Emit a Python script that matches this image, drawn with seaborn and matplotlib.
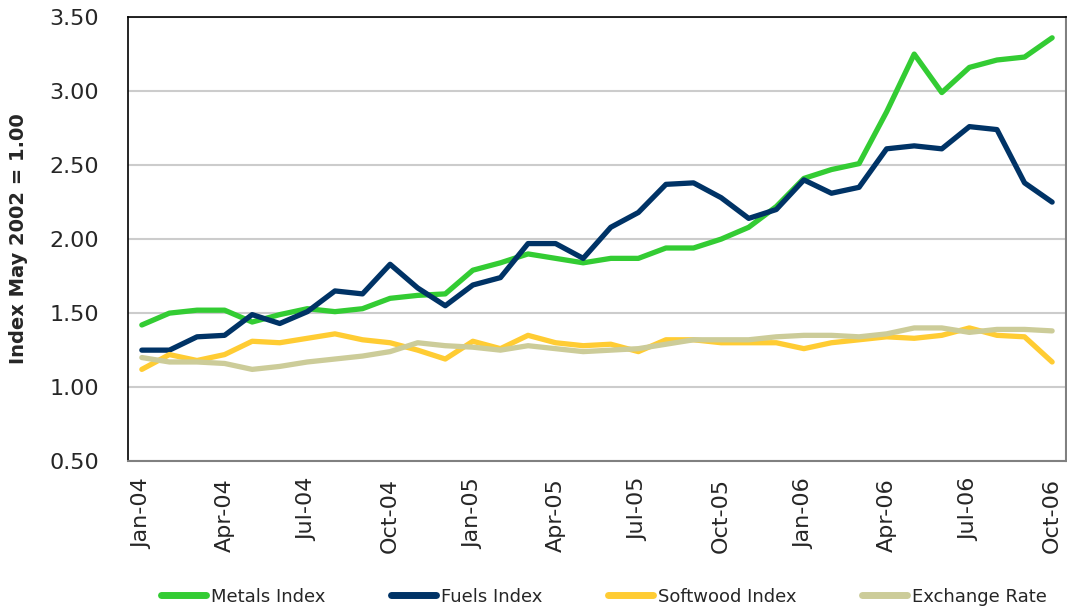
import seaborn as sns
import matplotlib.pyplot as plt
import pandas as pd
import numpy as np

# monthly index values, Jan-04 .. Oct-06 (May 2002 = 1.00)
months = pd.date_range(start='2004-01-01', periods=34, freq='MS').strftime('%b-%y').tolist()

metals = [1.42, 1.50, 1.52, 1.52, 1.44, 1.49, 1.53, 1.51, 1.53, 1.60, 1.62, 1.63,
          1.79, 1.84, 1.90, 1.87, 1.84, 1.87, 1.87, 1.94, 1.94, 2.00, 2.08, 2.22,
          2.41, 2.47, 2.51, 2.86, 3.25, 2.99, 3.16, 3.21, 3.23, 3.36]
fuels = [1.25, 1.25, 1.34, 1.35, 1.49, 1.43, 1.51, 1.65, 1.63, 1.83, 1.67, 1.55,
         1.69, 1.74, 1.97, 1.97, 1.87, 2.08, 2.18, 2.37, 2.38, 2.28, 2.14, 2.20,
         2.40, 2.31, 2.35, 2.61, 2.63, 2.61, 2.76, 2.74, 2.38, 2.25]
softwood = [1.12, 1.22, 1.18, 1.22, 1.31, 1.30, 1.33, 1.36, 1.32, 1.30, 1.25, 1.19,
            1.31, 1.26, 1.35, 1.30, 1.28, 1.29, 1.24, 1.32, 1.32, 1.30, 1.30, 1.30,
            1.26, 1.30, 1.32, 1.34, 1.33, 1.35, 1.40, 1.35, 1.34, 1.17]
exchange = [1.20, 1.17, 1.17, 1.16, 1.12, 1.14, 1.17, 1.19, 1.21, 1.24, 1.30, 1.28,
            1.27, 1.25, 1.28, 1.26, 1.24, 1.25, 1.26, 1.29, 1.32, 1.32, 1.32, 1.34,
            1.35, 1.35, 1.34, 1.36, 1.40, 1.40, 1.37, 1.39, 1.39, 1.38]

series_names = ['Metals Index', 'Fuels Index', 'Softwood Index', 'Exchange Rate']
colors = ['#33CC33', '#003366', '#FFCC33', '#CCCC99']

df = pd.DataFrame({'Month': months, 'Metals Index': metals, 'Fuels Index': fuels,
                   'Softwood Index': softwood, 'Exchange Rate': exchange})
df['pos'] = np.arange(len(df))
long = df.melt(id_vars=['Month', 'pos'], value_vars=series_names,
               var_name='Series', value_name='Index')

sns.set_style('white')
plt.rcParams['font.family'] = ['DejaVu Sans']

fig = plt.figure(figsize=(10.67, 6.10), dpi=100)
ax = fig.add_axes([0.12, 0.244, 0.879, 0.728])

sns.lineplot(data=long, x='pos', y='Index', hue='Series', hue_order=series_names,
             palette=dict(zip(series_names, colors)), linewidth=3.8,
             solid_capstyle='round', ax=ax, legend=True)

ax.set_xlim(-0.5, len(months) - 0.5)
ax.set_ylim(0.5, 3.5)
ax.set_yticks(np.arange(0.5, 3.51, 0.5))
ax.set_yticklabels([f'{v:.2f}' for v in np.arange(0.5, 3.51, 0.5)], fontsize=16)
ax.set_xticks(df['pos'][::3])
ax.set_xticklabels(df['Month'][::3], rotation=90, fontsize=16)
ax.tick_params(axis='y', length=0, pad=21)
ax.tick_params(axis='x', length=0, pad=12)
ax.yaxis.grid(True, color='#CCCCCC', linewidth=1.5)
ax.set_axisbelow(True)

for side in ['left', 'top']:
    ax.spines[side].set_color('black')
    ax.spines[side].set_linewidth(1.2)
for side in ['right', 'bottom']:
    ax.spines[side].set_color('#808080')
    ax.spines[side].set_linewidth(1.5)

ax.set_xlabel('')
ax.set_ylabel('Index May 2002 = 1.00', fontsize=14, fontweight='bold', labelpad=15)

handles, labels = ax.get_legend_handles_labels()
ax.get_legend().remove()
leg = fig.legend(handles, labels, loc='center', bbox_to_anchor=(0.566, 0.022), ncol=4,
                 frameon=False, fontsize=13, handlelength=2.5, handletextpad=0.3,
                 columnspacing=3.6)
for line in leg.get_lines():
    line.set_linewidth(5)

fig.savefig('out.png', dpi=100)
